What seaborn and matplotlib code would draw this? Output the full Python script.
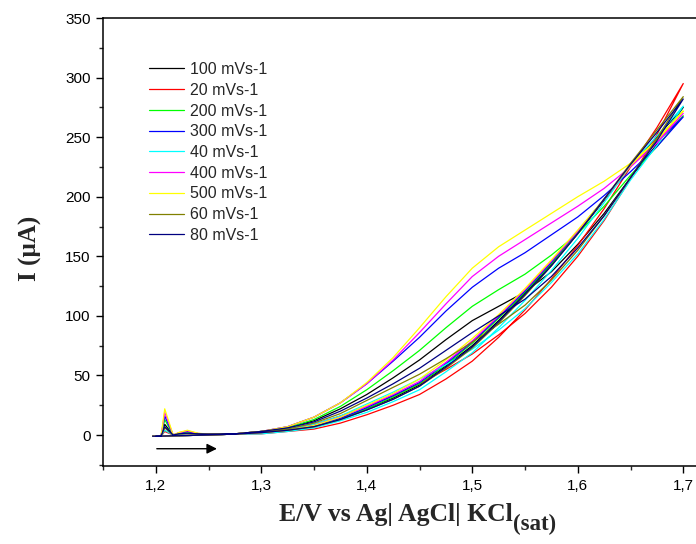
import numpy as np
import pandas as pd
import matplotlib
matplotlib.use("Agg")
import matplotlib.pyplot as plt
import seaborn as sns
from matplotlib.ticker import MultipleLocator, FixedLocator

# ---------------- data ----------------
series = ["100 mVs-1", "20 mVs-1", "200 mVs-1", "300 mVs-1", "40 mVs-1",
          "400 mVs-1", "500 mVs-1", "60 mVs-1", "80 mVs-1"]
colors = ["#000000", "#ff0000", "#00ff00", "#0000ff", "#00ffff",
          "#ff00ff", "#ffff00", "#808000", "#000080"]

# initial part of the scan (1.2 -> 1.3 V): spike + small bump
start_E = [1.197, 1.205, 1.2085, 1.2165, 1.222, 1.230, 1.240, 1.250, 1.275]
start_I = {
    "100 mVs-1": [-1, -1, 9, 0, 1.0, 1.5, 1.0, 0.8, 1.0],
    "20 mVs-1":  [-1, -1, 3, 0, 0.8, 1.2, 1.0, 0.8, 1.0],
    "200 mVs-1": [-1, -1, 13, 0, 1.5, 2.5, 1.2, 0.8, 1.0],
    "300 mVs-1": [-1, -1, 16, 0, 1.8, 3.0, 1.2, 0.8, 1.0],
    "40 mVs-1":  [-1, -1, 4, 0, 0.8, 1.3, 1.0, 0.8, 1.0],
    "400 mVs-1": [-1, -1, 19, 0, 2.0, 3.5, 1.3, 0.8, 1.0],
    "500 mVs-1": [-1, -1, 22, 0, 2.2, 4.0, 1.5, 0.8, 1.0],
    "60 mVs-1":  [-1, -1, 6, 0, 0.9, 1.4, 1.0, 0.8, 1.0],
    "80 mVs-1":  [-1, -1, 7, 0, 1.0, 1.5, 1.0, 0.8, 1.0],
}

sweep_E = [1.300, 1.325, 1.350, 1.375, 1.400, 1.425, 1.450, 1.475, 1.500,
           1.525, 1.550, 1.575, 1.600, 1.625, 1.650, 1.675, 1.700]

forward_I = {
    "500 mVs-1": [3, 7, 15, 27, 44, 65, 90, 116, 140, 158, 172, 186, 200, 213, 228, 247, 272],
    "400 mVs-1": [3, 7, 15, 27, 43, 63, 86, 110, 133, 150, 164, 178, 192, 207, 225, 245, 270],
    "300 mVs-1": [3, 7, 15, 27, 43, 62, 82, 104, 124, 140, 153, 168, 183, 201, 221, 242, 267],
    "200 mVs-1": [3, 6, 13, 24, 38, 54, 71, 90, 108, 122, 135, 151, 169, 192, 218, 242, 268],
    "100 mVs-1": [3, 6, 12, 22, 34, 48, 63, 80, 96, 108, 120, 137, 160, 186, 216, 244, 275],
    "80 mVs-1":  [3, 6, 11, 20, 31, 43, 56, 71, 86, 100, 114, 133, 157, 184, 216, 247, 282],
    "60 mVs-1":  [3, 5, 10, 18, 29, 40, 51, 64, 78, 93, 109, 130, 155, 184, 216, 249, 284],
    "40 mVs-1":  [2, 5, 9, 16, 26, 36, 47, 59, 72, 88, 106, 128, 152, 181, 214, 243, 276],
    "20 mVs-1":  [2, 5, 9, 16, 24, 33, 43, 55, 68, 84, 102, 124, 150, 180, 215, 252, 295],
}
reverse_I = {
    "500 mVs-1": [2, 4, 8, 15, 25, 35, 47, 63, 81, 101, 123, 147, 172, 198, 226, 248, 272],
    "400 mVs-1": [2, 4, 8, 15, 24, 34, 45, 61, 79, 100, 122, 146, 171, 198, 226, 247, 270],
    "300 mVs-1": [2, 4, 8, 14, 23, 33, 44, 60, 78, 99, 121, 145, 171, 198, 226, 246, 267],
    "200 mVs-1": [2, 4, 7, 14, 22, 32, 43, 59, 77, 98, 120, 144, 170, 198, 226, 246, 268],
    "100 mVs-1": [2, 4, 7, 14, 22, 31, 42, 58, 75, 96, 119, 143, 169, 197, 226, 250, 275],
    "80 mVs-1":  [2, 4, 7, 13, 21, 30, 41, 57, 74, 95, 118, 142, 169, 198, 227, 254, 282],
    "60 mVs-1":  [2, 4, 7, 13, 21, 30, 41, 56, 73, 94, 117, 142, 169, 198, 228, 256, 284],
    "40 mVs-1":  [1, 3, 6, 12, 19, 28, 38, 53, 69, 90, 113, 138, 165, 195, 226, 251, 276],
    "20 mVs-1":  [1, 3, 5, 10, 17, 25, 34, 47, 62, 82, 105, 131, 159, 190, 225, 258, 295],
}

# end of the return scan (1.3 -> 1.2 V)
tail_E = [1.275, 1.250, 1.225, 1.200]
tail_I = [0.8, 0.0, -0.5, -1.0]

xticks = [1.2, 1.3, 1.4, 1.5, 1.6, 1.7]
xtick_labels = ["1,2", "1,3", "1,4", "1,5", "1,6", "1,7"]
yticks = [0, 50, 100, 150, 200, 250, 300, 350]

# ---------------- build table ----------------
rows = []
for s in series:
    E = start_E + sweep_E + sweep_E[::-1][1:] + tail_E
    I = start_I[s] + forward_I[s] + reverse_I[s][::-1][1:] + tail_I
    for k, (e, i) in enumerate(zip(E, I)):
        rows.append({"E": e, "I": i, "series": s, "k": k})
df = pd.DataFrame(rows)

# ---------------- plot ----------------
sns.set_style("ticks")
plt.rcParams["font.family"] = ["Liberation Sans", "DejaVu Sans"]

W, H = 696, 544
fig = plt.figure(figsize=(W / 100, H / 100), dpi=100)
ax = fig.add_axes([103 / W, 78 / H, 633 / W, 448 / H])

sns.lineplot(data=df, x="E", y="I", hue="series", hue_order=series,
             palette=colors, sort=False, estimator=None, lw=0.9, ax=ax,
             legend=True)

ax.set_xlim(1.15, 1.75)
ax.set_ylim(-26, 350)
ax.xaxis.set_major_locator(FixedLocator(xticks))
ax.set_xticklabels(xtick_labels)
ax.xaxis.set_minor_locator(MultipleLocator(0.05))
ax.yaxis.set_major_locator(FixedLocator(yticks))
ax.yaxis.set_minor_locator(MultipleLocator(25))
ax.tick_params(which="major", direction="out", length=5, width=1,
               labelsize=11, colors="black", pad=4)
ax.tick_params(which="minor", direction="out", length=3, width=1)
ax.tick_params(top=False, right=False, which="both")
for sp in ["left", "bottom", "top"]:
    ax.spines[sp].set_linewidth(1.1)
    ax.spines[sp].set_color("black")
ax.spines["right"].set_visible(False)

ax.set_xlabel("")
ax.set_ylabel("")

serif = ["Liberation Serif", "DejaVu Serif"]
# y label
fig.text(30 / W, 1 - 248 / H, "I (µA)", rotation=90, ha="center", va="center",
         fontsize=18, fontweight="bold", fontfamily=serif)

# x label with subscript
t1 = fig.text(0, 0, "E/V vs Ag| AgCl| KCl", ha="left", va="baseline",
              fontsize=18.5, fontweight="bold", fontfamily=serif)
t2 = fig.text(0, 0, "(sat)", ha="left", va="baseline",
              fontsize=16.5, fontweight="bold", fontfamily=serif)
fig.canvas.draw()
r = fig.canvas.get_renderer()
w1 = t1.get_window_extent(r).width
w2 = t2.get_window_extent(r).width
x0 = 417 - (w1 + w2) / 2
t1.set_position((x0 / W, 1 - 521 / H))
t2.set_position(((x0 + w1 + 1) / W, 1 - 530 / H))

# scan direction arrow
ax.annotate("", xy=(1.258, -11.5), xytext=(1.201, -11.5),
            arrowprops=dict(arrowstyle="-|>", color="black", lw=1,
                            mutation_scale=15, shrinkA=0, shrinkB=0))

handles, labels = ax.get_legend_handles_labels()
ax.legend(handles, labels, loc="upper left",
          bbox_to_anchor=(149 / W, 1 - 62 / H),
          bbox_transform=fig.transFigure, frameon=False,
          fontsize=11.5, handlelength=2.2, handletextpad=0.35,
          labelspacing=0.36, borderpad=0, borderaxespad=0)

fig.savefig("out.png", dpi=100)
